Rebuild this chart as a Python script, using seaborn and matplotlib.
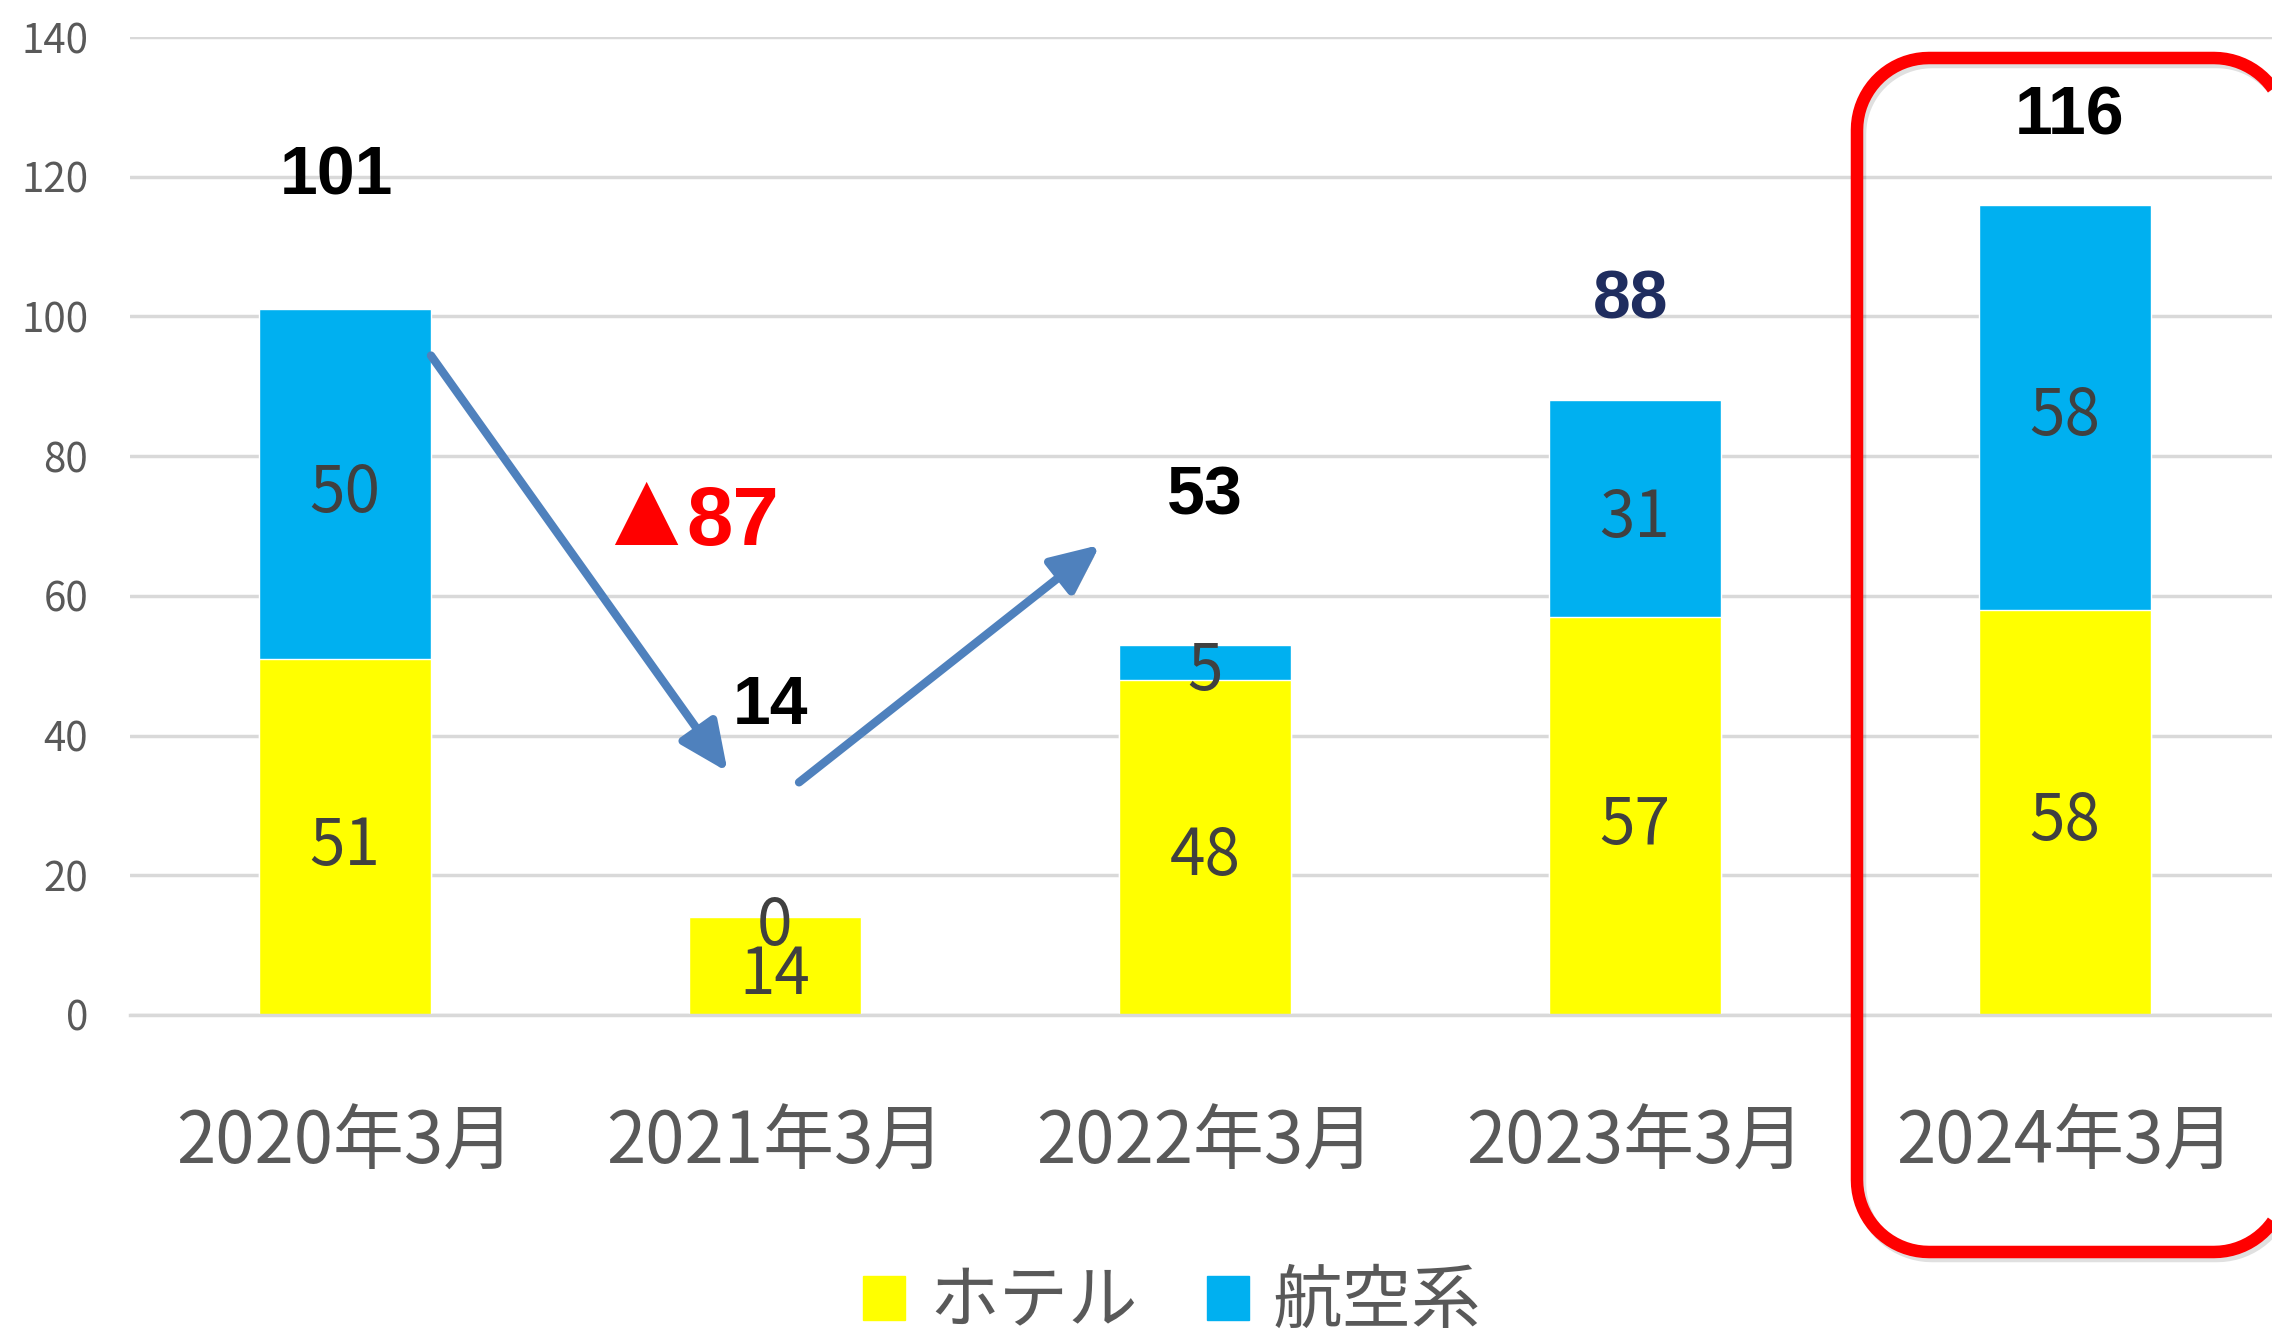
import numpy as np
import pandas as pd
import matplotlib
matplotlib.use('Agg')
import matplotlib.pyplot as plt
import seaborn as sns
from matplotlib.patches import FancyArrowPatch, Polygon, Patch
from matplotlib.transforms import IdentityTransform, Affine2D
import matplotlib.patheffects as pe

# データ
months = ['2020年3月', '2021年3月', '2022年3月', '2023年3月', '2024年3月']
hotel = [51, 14, 48, 57, 58]
airline = [50, 0, 5, 31, 58]
totals = [101, 14, 53, 88, 116]
total_label_y = [120, 44.3, 74.2, 102.3, 128.6]
total_label_x = [-0.02, 0.99, 2.0, 2.99, 4.01]
total_colors = ['black', 'black', 'black', '#1F2D5F', 'black']

df = pd.DataFrame({'month': months, 'hotel': hotel, 'airline': airline, 'total': totals})

sns.set_style('white')
plt.rcParams['font.family'] = ['Noto Sans CJK JP', 'DejaVu Sans']

fig = plt.figure(figsize=(22.72, 13.36), dpi=100)
ax = fig.add_axes([0.0572, 0.2403, 0.9463, 0.732])

YELLOW = '#FFFF00'
BLUE = '#00B0F0'

sns.barplot(data=df, x='month', y='total', color=BLUE, width=0.4, saturation=1, ax=ax)
sns.barplot(data=df, x='month', y='hotel', color=YELLOW, width=0.4, saturation=1, ax=ax)

ax.set_xlim(-0.5, 4.5)
ax.set_ylim(0, 140)
ax.set_yticks(range(0, 141, 20))
ax.set_xlabel('')
ax.set_ylabel('')
ax.yaxis.grid(True, color='#D9D9D9', lw=2.5)
ax.set_axisbelow(True)
for s in ['left', 'top', 'right']:
    ax.spines[s].set_visible(False)
ax.spines['bottom'].set_color('#D9D9D9')
ax.spines['bottom'].set_linewidth(2.5)
ax.tick_params(axis='y', length=0, pad=30, labelsize=29, labelcolor='#595959')
ax.tick_params(axis='x', which='major', length=0, pad=66, labelsize=51, labelcolor='#595959')
ax.set_xticks([i - 0.5 for i in range(6)], minor=True)
ax.tick_params(axis='x', which='minor', length=16, width=2.5, color='#D9D9D9')

# 内訳ラベル
for i in range(len(months)):
    ax.text(i, hotel[i] / 2 - 1.4, str(hotel[i]), ha='center', va='center', fontsize=46, color='#404040')
    ax.text(i, hotel[i] + airline[i] / 2 - 1.4, str(airline[i]), ha='center', va='center',
            fontsize=46, color='#404040')

# 合計ラベル
for x, y, t, c in zip(total_label_x, total_label_y, totals, total_colors):
    ax.text(x, y, str(t), ha='center', va='center', fontsize=49, fontweight='bold',
            color=c, family=['Liberation Sans', 'DejaVu Sans'])

# 減少幅
ax.text(0.825, 67.3, '▲', ha='right', va='baseline', fontsize=78, color='#FF0000',
        family=['Liberation Sans', 'DejaVu Sans'])
ax.text(0.795, 67.3, '87', ha='left', va='baseline', fontsize=60, fontweight='bold',
        color='#FF0000', family=['Liberation Sans', 'DejaVu Sans'])

# 矢印
shadow = [pe.SimplePatchShadow(offset=(2, -3), alpha=0.3), pe.Normal()]
for start, end in [((0.2, 94.4), (0.89, 34.8)), ((1.056, 33.3), (1.756, 67.3))]:
    arr = FancyArrowPatch(start, end, arrowstyle='-|>,head_length=1.1,head_width=0.5',
                          mutation_scale=27, lw=6, color='#4F81BD', shrinkA=0, shrinkB=0,
                          path_effects=shadow)
    ax.add_patch(arr)

# 赤枠 (角丸の四角をピクセル座標で)
def rounded_rect(x0, y0, x1, y1, r, n=20):
    pts = []
    for cx, cy, a0 in [(x1 - r, y1 - r, 0), (x0 + r, y1 - r, 90), (x0 + r, y0 + r, 180), (x1 - r, y0 + r, 270)]:
        a = np.radians(np.linspace(a0, a0 + 90, n))
        pts.extend(zip(cx + r * np.cos(a), cy + r * np.sin(a)))
    return pts

pts = rounded_rect(1857, 84, 2286, 1278, 72)
fig.patches.append(Polygon(pts, closed=True, fill=False, ec='#000000', lw=9, alpha=0.12,
                           transform=Affine2D().translate(3, -4)))
fig.patches.append(Polygon(pts, closed=True, fill=False, ec='#FF0000', lw=9,
                           transform=IdentityTransform()))

# 凡例
handles = [Patch(color=YELLOW, label='ホテル'), Patch(color=BLUE, label='航空系')]
leg = fig.legend(handles=handles, loc='center', bbox_to_anchor=(0.516, 0.025), ncol=2,
                 frameon=False, fontsize=50, handlelength=0.6, handleheight=0.6,
                 handletextpad=0.35, columnspacing=1.0)
for t in leg.get_texts():
    t.set_color('#595959')

fig.savefig('out.png', dpi=100)
